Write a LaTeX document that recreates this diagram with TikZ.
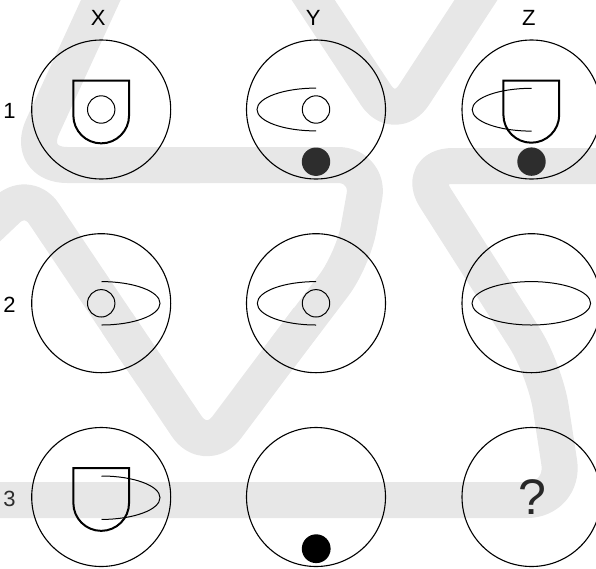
\documentclass[tikz,border=0pt]{standalone}
\usepackage{fontspec}
\setmainfont{Liberation Sans}
\definecolor{bandgray}{RGB}{231,231,231}
\definecolor{dotgray}{RGB}{45,45,45}
\definecolor{labgray}{RGB}{45,45,45}
\definecolor{qgray}{RGB}{40,40,40}
\begin{document}
\begin{tikzpicture}[x=1pt,y=-1pt,
  cell/.style={circle, draw, line width=1.1pt, minimum size=139pt, inner sep=0pt},
  lbl/.style={inner sep=0pt, font=\fontsize{22}{22}\selectfont},
  bandline/.style={line width=36pt, draw=bandgray, line cap=butt, line join=round},
  figline/.style={line width=1pt},
  shieldline/.style={line width=2pt},
]
\useasboundingbox (0,0) rectangle (596,568);

% background band
\draw[bandline, rounded corners=42pt] (110,-20) -- (25,165) -- (200,165);
\draw[bandline, rounded corners=32pt] (150,165) -- (370,165) -- (353,260) -- (279,357.5);
\draw[bandline, rounded corners=35pt] (308.2,318.5) -- (206,455) -- (117,322.5);
\draw[bandline, rounded corners=28pt] (152.6,375.5) -- (28,190) -- (-30,245);
\draw[bandline, rounded corners=35pt] (300,-20) -- (395,124) -- (489,-20);
\draw[bandline, rounded corners=38pt] (620,166) -- (415,166) -- (545,370) -- (565,500) -- (-20,500);

% labels
\node[lbl] (lx) at (98.3,17.8) {X};
\node[lbl] (ly) at (313.3,17.8) {Y};
\node[lbl] (lz) at (528.8,17.8) {Z};
\node[lbl] (l1) at (9.6,110.5) {1};
\node[lbl] (l2) at (9.5,305) {2};
\node[lbl, text=labgray] (l3) at (9.5,498.5) {3};

% cells
\node[cell] (c11) at (101.2,109.5) {};
\node[cell] (c12) at (316,109.5) {};
\node[cell] (c13) at (531.5,109.5) {};
\node[cell] (c21) at (101.2,303.2) {};
\node[cell] (c22) at (316,303.2) {};
\node[cell] (c23) at (531.5,303.2) {};
\node[cell] (c31) at (101.2,497) {};
\node[cell] (c32) at (316,497) {};
\node[cell] (c33) at (531.5,497) {};

% row 1
\draw[shieldline] (101.2-27.85,109.5-28.8) -- (101.2+27.85,109.5-28.8) -- (101.2+27.85,109.5+6)
  arc[start angle=0, end angle=180, radius=27.85] -- cycle;
\draw[figline] (101.2,109.5) circle[radius=13.7];

\draw[figline] (316,109.5-21.4) arc[start angle=270, end angle=90, x radius=59, y radius=21.4];
\draw[figline] (316,109.5) circle[radius=13.7];
\fill[dotgray] (316,161.7) circle[radius=14.2];

\draw[figline] (531.5,109.7-21.4) arc[start angle=270, end angle=90, x radius=59.3, y radius=21.4];
\draw[shieldline] (531.3-27.9,109.5-28.8) -- (531.3+27.9,109.5-28.8) -- (531.3+27.9,109.5+5.3)
  arc[start angle=0, end angle=180, radius=27.9] -- cycle;
\fill[dotgray] (531.5,161.6) circle[radius=14.2];

% row 2
\draw[figline] (101.5,303.3-21.7) arc[start angle=-90, end angle=90, x radius=58.5, y radius=21.7];
\draw[figline] (101.2,303.3) circle[radius=13.7];

\draw[figline] (316,303.3-21.7) arc[start angle=270, end angle=90, x radius=58.7, y radius=21.7];
\draw[figline] (316,303.3) circle[radius=13.7];

\draw[figline] (531.3,303.3) ellipse[x radius=59.3, y radius=21.7];

% row 3
\draw[shieldline] (101.2-27.85,497-28.8) -- (101.2+27.85,497-28.8) -- (101.2+27.85,497+6)
  arc[start angle=0, end angle=180, radius=27.85] -- cycle;
\draw[figline] (101.5,497.7-21.7) arc[start angle=-90, end angle=90, x radius=58.5, y radius=21.7];

\fill[black] (316.2,548.7) circle[radius=14.4];

\node[inner sep=0pt, font=\fontsize{50}{50}\selectfont, text=qgray] (q) at (532.7,496.7) {?};
\end{tikzpicture}
\end{document}
